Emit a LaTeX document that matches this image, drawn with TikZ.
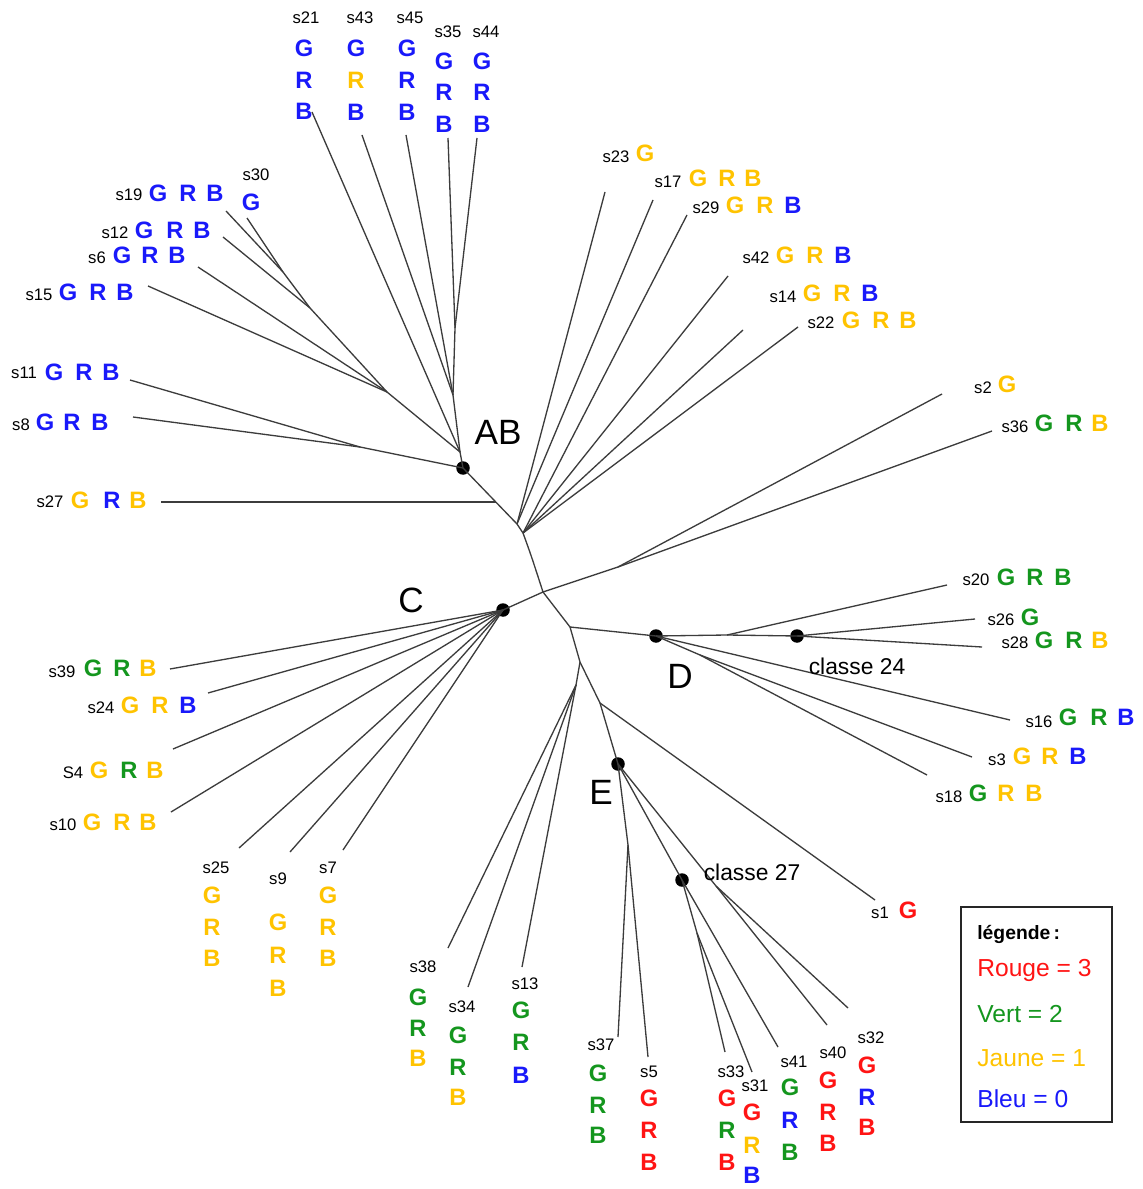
\documentclass[tikz,border=0pt]{standalone}
\usepackage{fontspec}
\setmainfont{Liberation Sans}
\definecolor{cB}{RGB}{25,25,250}
\definecolor{cY}{RGB}{255,195,0}
\definecolor{cG}{RGB}{20,150,30}
\definecolor{cR}{RGB}{255,20,20}
\definecolor{lc}{RGB}{60,60,60}
\newcommand\TriH[8]{\node[lt,text=#6] (g#1) at (#2,#5) {G};\node[lt,text=#7] (r#1) at (#3,#5) {R};\node[lt,text=#8] (b#1) at (#4,#5) {B};}
\newcommand\TriV[8]{\node[lt,text=#6] (g#1) at (#2,#3) {G};\node[lt,text=#7] (r#1) at (#2,#4) {R};\node[lt,text=#8] (b#1) at (#2,#5) {B};}
\newcommand\OneG[4]{\node[lt,text=#4] (g#1) at (#2,#3) {G};}
\newcommand\Nm[4]{\node[nm] (n#1) at (#2,#3) {#4};}
\begin{document}
\begin{tikzpicture}[x=0.02cm,y=-0.02cm,
  br/.style={draw=lc,line width=0.75pt},
  dotn/.style={circle,fill=black,inner sep=0pt,minimum size=0.27cm},
  nm/.style={inner sep=0pt,font=\fontsize{9.5}{10}\selectfont},
  lt/.style={inner sep=0pt,font=\fontsize{13.5}{14}\selectfont\bfseries},
  big/.style={inner sep=0pt,font=\fontsize{20}{22}\selectfont},
  cl/.style={inner sep=0pt,font=\fontsize{13}{14}\selectfont},
  lg/.style={inner sep=0pt,anchor=base west,font=\fontsize{14}{16}\selectfont}]
\useasboundingbox[fill=white] (0,0) rectangle (1142,1189);

% ---------- internal coordinates ----------
\coordinate (j1) at (283,272);
\coordinate (j2) at (310,308);
\coordinate (j3) at (387,392);
\coordinate (k1) at (455,328);
\coordinate (k2) at (453,395);
\coordinate (t0) at (460,452);
\coordinate (m1) at (360,447);
\coordinate (n1) at (517,524);
\coordinate (p27) at (495.8,502);
\coordinate (u2) at (523,533);
\coordinate (n2) at (543,592);
\coordinate (v) at (618,567);
\coordinate (n3) at (570,627);
\coordinate (q) at (727,635);
\coordinate (r) at (700,655);
\coordinate (n4) at (580,662);
\coordinate (w1) at (576,685);
\coordinate (w2) at (600,703);
\coordinate (x1) at (628,845);
\coordinate (x2) at (697,933);
\coordinate (x3) at (716,886);

% ---------- leaf ends ----------
\coordinate (e30) at (247,218);
\coordinate (e19) at (226,211);
\coordinate (e12) at (223,237);
\coordinate (e6) at (198,267);
\coordinate (e15) at (148,286);
\coordinate (e11) at (130,380);
\coordinate (e8) at (133,417);
\coordinate (e27) at (161,502);
\coordinate (e21) at (312,112);
\coordinate (e43) at (362,135);
\coordinate (e45) at (406,135);
\coordinate (e35) at (448,138);
\coordinate (e44) at (477,138);
\coordinate (e23) at (605,192);
\coordinate (e17) at (653,200);
\coordinate (e29) at (687,215);
\coordinate (e42) at (728,276);
\coordinate (e14) at (743,330);
\coordinate (e22) at (798,327);
\coordinate (e2) at (942,394);
\coordinate (e36) at (992,431);
\coordinate (e20) at (947,585);
\coordinate (e26) at (975,619);
\coordinate (e28) at (982,647);
\coordinate (e16) at (1010,720);
\coordinate (e3) at (972,757);
\coordinate (e18) at (927,775);
\coordinate (e39) at (170,669);
\coordinate (e24) at (208,693);
\coordinate (e4) at (173,749);
\coordinate (e10) at (171,812);
\coordinate (e25) at (239,848);
\coordinate (e9) at (290,852);
\coordinate (e7) at (343,850);
\coordinate (e38) at (448,948);
\coordinate (e34) at (468,987);
\coordinate (e13) at (522,967);
\coordinate (e37) at (618,1037);
\coordinate (e5) at (648,1057);
\coordinate (e1) at (875,900);
\coordinate (e33) at (725,1052);
\coordinate (e31) at (752,1072);
\coordinate (e41) at (778,1047);
\coordinate (e40) at (827,1025);
\coordinate (e32) at (848,1008);

% ---------- dots ----------
\node[dotn] (AB) at (463,468) {};
\node[dotn] (C) at (503,610) {};
\node[dotn] (D) at (656,636) {};
\node[dotn] (c24) at (797,636) {};
\node[dotn] (E) at (618,764) {};
\node[dotn] (c27) at (682,880) {};

% ---------- branches ----------
\draw[br] (j1) -- (e30);
\draw[br] (j1) -- (e19);
\draw[br] (j2) -- (j1);
\draw[br] (j2) -- (e12);
\draw[br] (j3) -- (j2);
\draw[br] (j3) -- (e6);
\draw[br] (j3) -- (e15);
\draw[br] (t0) -- (j3);
\draw[br] (k1) -- (e35);
\draw[br] (k1) -- (e44);
\draw[br] (k2) -- (k1);
\draw[br] (k2) -- (e43);
\draw[br] (k2) -- (e45);
\draw[br] (t0) -- (k2);
\draw[br] (t0) -- (e21);
\draw[br] (AB.center) -- (t0);
\draw[br] (m1) -- (e11);
\draw[br] (m1) -- (e8);
\draw[br] (AB.center) -- (m1);
\draw[br] (AB.center) -- (n1);
\draw[br] (p27) -- (e27);
\draw[br] (n1) -- (e23);
\draw[br] (n1) -- (e17);
\draw[br] (n1) -- (u2);
\draw[br] (u2) -- (e29);
\draw[br] (u2) -- (e42);
\draw[br] (u2) -- (e14);
\draw[br] (u2) -- (e22);
\draw[br] (u2) .. controls (531,555) .. (n2);
\draw[br] (n2) -- (v);
\draw[br] (v) -- (e2);
\draw[br] (v) -- (e36);
\draw[br] (n2) -- (C.center);
\draw[br] (C.center) -- (e39);
\draw[br] (C.center) -- (e24);
\draw[br] (C.center) -- (e4);
\draw[br] (C.center) -- (e10);
\draw[br] (C.center) -- (e25);
\draw[br] (C.center) -- (e9);
\draw[br] (C.center) -- (e7);
\draw[br] (n2) -- (n3);
\draw[br] (n3) -- (D.center);
\draw[br] (D.center) -- (q);
\draw[br] (q) -- (e20);
\draw[br] (q) -- (c24.center);
\draw[br] (c24.center) -- (e26);
\draw[br] (c24.center) -- (e28);
\draw[br] (D.center) -- (e16);
\draw[br] (D.center) -- (r);
\draw[br] (r) -- (e3);
\draw[br] (r) -- (e18);
\draw[br] (n3) -- (n4);
\draw[br] (n4) -- (w1);
\draw[br] (w1) -- (e38);
\draw[br] (w1) -- (e34);
\draw[br] (w1) -- (e13);
\draw[br] (n4) -- (w2);
\draw[br] (w2) -- (e1);
\draw[br] (w2) -- (E.center);
\draw[br] (E.center) -- (x1);
\draw[br] (x1) -- (e37);
\draw[br] (x1) -- (e5);
\draw[br] (E.center) -- (c27.center);
\draw[br] (c27.center) -- (e41);
\draw[br] (c27.center) -- (x2);
\draw[br] (x2) -- (e33);
\draw[br] (x2) -- (e31);
\draw[br] (E.center) -- (x3);
\draw[br] (x3) -- (e40);
\draw[br] (x3) -- (e32);

% ---------- clade labels ----------
\node[big] (lAB) at (498,432) {AB};
\node[big] (lC) at (411,600) {C};
\node[big] (lD) at (680,676) {D};
\node[big] (lE) at (601,792) {E};
\node[cl] (l24) at (857,666) {classe 24};
\node[cl] (l27) at (752,872) {classe 27};

% ---------- leaf labels ----------
\Nm{19}{129}{195}{s19} \TriH{19}{158}{188}{215}{193}{cB}{cB}{cB}
\Nm{30}{256}{175}{s30} \OneG{30}{251}{202}{cB}
\Nm{12}{115}{233}{s12} \TriH{12}{144}{175}{202}{230}{cB}{cB}{cB}
\Nm{6}{97}{258}{s6} \TriH{6}{122}{150}{177}{255}{cB}{cB}{cB}
\Nm{15}{39}{295}{s15} \TriH{15}{68}{98}{125}{292}{cB}{cB}{cB}
\Nm{11}{24}{373}{s11} \TriH{11}{54}{84}{111}{372}{cB}{cB}{cB}
\Nm{8}{21}{425}{s8} \TriH{8}{45}{72}{100}{422}{cB}{cB}{cB}
\Nm{27}{50}{502}{s27} \TriH{27}{80}{112}{138}{500}{cY}{cB}{cY}

\Nm{21}{306}{18}{s21} \TriV{21}{304}{48}{80}{111}{cB}{cB}{cB}
\Nm{43}{360}{18}{s43} \TriV{43}{356}{48}{80}{112}{cB}{cY}{cB}
\Nm{45}{410}{18}{s45} \TriV{45}{407}{48}{80}{112}{cB}{cB}{cB}
\Nm{35}{448}{32}{s35} \TriV{35}{444}{61}{92}{124}{cB}{cB}{cB}
\Nm{44}{486}{32}{s44} \TriV{44}{482}{61}{92}{124}{cB}{cB}{cB}

\Nm{23}{616}{157}{s23} \OneG{23}{645}{153}{cY}
\Nm{17}{668}{182}{s17} \TriH{17}{698}{727}{753}{178}{cY}{cY}{cY}
\Nm{29}{706}{208}{s29} \TriH{29}{735}{765}{793}{205}{cY}{cY}{cB}
\Nm{42}{756}{258}{s42} \TriH{42}{785}{815}{843}{255}{cY}{cY}{cB}
\Nm{14}{783}{297}{s14} \TriH{14}{812}{842}{870}{293}{cY}{cY}{cB}
\Nm{22}{821}{323}{s22} \TriH{22}{851}{881}{908}{320}{cY}{cY}{cY}

\Nm{2}{983}{388}{s2} \OneG{2}{1007}{384}{cY}
\Nm{36}{1015}{427}{s36} \TriH{36}{1044}{1074}{1100}{423}{cG}{cG}{cY}
\Nm{20}{976}{580}{s20} \TriH{20}{1006}{1035}{1063}{577}{cG}{cG}{cG}
\Nm{26}{1001}{620}{s26} \OneG{26}{1030}{617}{cG}
\Nm{28}{1015}{643}{s28} \TriH{28}{1044}{1074}{1100}{640}{cG}{cG}{cY}
\Nm{16}{1039}{722}{s16} \TriH{16}{1068}{1099}{1126}{717}{cG}{cG}{cB}
\Nm{3}{997}{760}{s3} \TriH{3}{1022}{1050}{1078}{756}{cY}{cY}{cB}
\Nm{18}{949}{797}{s18} \TriH{18}{978}{1006}{1034}{793}{cG}{cY}{cY}

\Nm{39}{62}{672}{s39} \TriH{39}{93}{122}{148}{668}{cG}{cG}{cY}
\Nm{24}{101}{708}{s24} \TriH{24}{130}{160}{188}{705}{cY}{cY}{cB}
\Nm{4}{73}{773}{S4} \TriH{4}{99}{129}{155}{770}{cY}{cG}{cY}
\Nm{10}{63}{825}{s10} \TriH{10}{92}{122}{148}{822}{cY}{cY}{cY}
\Nm{25}{216}{868}{s25} \TriV{25}{212}{895}{927}{958}{cY}{cY}{cY}
\Nm{9}{278}{879}{s9} \TriV{9}{278}{922}{955}{988}{cY}{cY}{cY}
\Nm{7}{328}{868}{s7} \TriV{7}{328}{895}{927}{958}{cY}{cY}{cY}

\Nm{38}{423}{967}{s38} \TriV{38}{418}{997}{1028}{1058}{cG}{cG}{cY}
\Nm{34}{462}{1007}{s34} \TriV{34}{458}{1035}{1067}{1097}{cG}{cG}{cY}
\Nm{13}{525}{984}{s13} \TriV{13}{521}{1010}{1042}{1075}{cG}{cG}{cB}
\Nm{37}{601}{1045}{s37} \TriV{37}{598}{1073}{1105}{1135}{cG}{cG}{cG}
\Nm{5}{649}{1072}{s5} \TriV{5}{649}{1098}{1130}{1162}{cR}{cR}{cR}
\Nm{1}{880}{913}{s1} \OneG{1}{908}{910}{cR}
\Nm{33}{731}{1072}{s33} \TriV{33}{727}{1098}{1130}{1162}{cR}{cG}{cR}
\Nm{31}{755}{1086}{s31} \TriV{31}{752}{1112}{1145}{1175}{cR}{cY}{cB}
\Nm{41}{794}{1062}{s41} \TriV{41}{790}{1087}{1120}{1152}{cG}{cB}{cG}
\Nm{40}{833}{1053}{s40} \TriV{40}{828}{1080}{1112}{1143}{cR}{cR}{cR}
\Nm{32}{871}{1038}{s32} \TriV{32}{867}{1065}{1097}{1127}{cR}{cB}{cR}

% ---------- legend ----------
\node[draw=black!85,line width=1pt,inner sep=0pt,minimum width=3.02cm,minimum height=4.30cm] (leg) at (1036.5,1014.5) {};
\node[inner sep=0pt,anchor=base west,font=\fontsize{11}{12}\selectfont\bfseries] (lg0) at (977,939) {légende\,:};
\node[lg,text=cR] (lg1) at (977,976) {Rouge = 3};
\node[lg,text=cG] (lg2) at (977,1022) {Vert = 2};
\node[lg,text=cY] (lg3) at (977,1066) {Jaune = 1};
\node[lg,text=cB] (lg4) at (977,1107) {Bleu = 0};
\end{tikzpicture}
\end{document}
